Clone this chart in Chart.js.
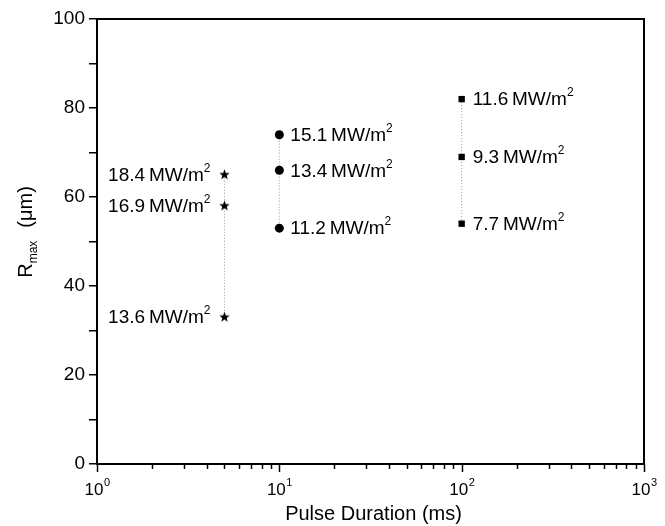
<!DOCTYPE html>
<html>
<head>
<meta charset="utf-8">
<style>html,body{margin:0;padding:0;background:#fff}</style>
<script src="https://cdn.jsdelivr.net/npm/chart.js@4.4.0/dist/chart.umd.min.js"></script>
</head>
<body>
<canvas id="chart" width="665" height="526"></canvas>
<script>
// pulse durations (ms) for each marker group
const pulseDurations = [5, 10, 100];
// R_max (um) and peak intensity (MW/m2) for each group
const starValues = [65, 58, 33];
const starIntensity = ['18.4', '16.9', '13.6'];
const circleValues = [74, 66, 53];
const circleIntensity = ['15.1', '13.4', '11.2'];
const squareValues = [82, 69, 54];
const squareIntensity = ['11.6', '9.3', '7.7'];
const xTickExponents = [0, 1, 2, 3];
const yTickLabels = [0, 20, 40, 60, 80, 100];

const FONT = "'Liberation Sans', Arial, sans-serif";

function makeStar(r) {
  const c = document.createElement('canvas');
  c.width = c.height = 2 * r + 2;
  const g = c.getContext('2d');
  g.fillStyle = '#000';
  g.beginPath();
  for (let i = 0; i < 10; i++) {
    const a = -Math.PI / 2 + i * Math.PI / 5;
    const rr = i % 2 ? r * 0.42 : r;
    g.lineTo(r + 1 + rr * Math.cos(a), r + 1 + rr * Math.sin(a));
  }
  g.closePath();
  g.fill();
  return c;
}

function group(x, values, intensity, style, radius, side) {
  return {
    data: values.map(v => ({ x: x, y: v })),
    intensity: intensity,
    labelSide: side,
    showLine: true,
    borderColor: '#9a9a9a',
    borderWidth: 1,
    borderDash: [1, 2],
    pointStyle: style,
    pointRadius: radius,
    pointBackgroundColor: '#000',
    pointBorderColor: '#000',
    pointBorderWidth: 0
  };
}

const labelsPlugin = {
  id: 'labels',
  afterDraw(chart) {
    const { ctx, chartArea: a, scales: { x, y } } = chart;
    ctx.save();
    ctx.strokeStyle = '#000';
    ctx.lineWidth = 2;
    ctx.strokeRect(a.left, a.top, a.right - a.left, a.bottom - a.top);

    // log ticks on the bottom axis
    ctx.lineWidth = 1.5;
    for (let e = 0; e < 3; e++) {
      for (let m = 1; m < 10; m++) {
        const px = Math.round(x.getPixelForValue(m * Math.pow(10, e))) + 0.5;
        const len = m === 1 ? 8 : 5;
        ctx.beginPath(); ctx.moveTo(px, a.bottom); ctx.lineTo(px, a.bottom + len); ctx.stroke();
      }
    }
    const pxEnd = Math.round(x.getPixelForValue(1000)) + 0.5;
    ctx.beginPath(); ctx.moveTo(pxEnd, a.bottom); ctx.lineTo(pxEnd, a.bottom + 8); ctx.stroke();

    ctx.fillStyle = '#000';
    ctx.textBaseline = 'alphabetic';
    xTickExponents.forEach(e => {
      const px = x.getPixelForValue(Math.pow(10, e));
      ctx.font = '17px ' + FONT;
      ctx.textAlign = 'center';
      ctx.fillText('10', px - 3, 495);
      ctx.font = '11px ' + FONT;
      ctx.textAlign = 'left';
      ctx.fillText(String(e), px + 7, 486);
    });

    ctx.font = '20px ' + FONT;
    ctx.textAlign = 'center';
    ctx.fillText('Pulse Duration (ms)', (a.left + a.right) / 2 + 3, 520);

    // y title: R_max (um)
    ctx.save();
    ctx.translate(32, 232);
    ctx.rotate(-Math.PI / 2);
    ctx.textAlign = 'left';
    ctx.font = '20px ' + FONT;
    const wR = ctx.measureText('R').width;
    ctx.font = '12px ' + FONT;
    const wSub = ctx.measureText('max').width;
    ctx.font = '20px ' + FONT;
    const wUnit = ctx.measureText('(\u03bcm)').width;
    const total = wR + wSub + 13 + wUnit;
    let cx = -total / 2;
    ctx.fillText('R', cx, 0);
    ctx.font = '12px ' + FONT;
    ctx.fillText('max', cx + wR, 5);
    ctx.font = '20px ' + FONT;
    ctx.fillText('(\u03bcm)', cx + wR + wSub + 13, 0);
    ctx.restore();

    // intensity labels beside each marker
    chart.data.datasets.forEach((ds, i) => {
      const meta = chart.getDatasetMeta(i);
      meta.data.forEach((pt, j) => {
        ctx.font = '19px ' + FONT;
        const main = ds.intensity[j] + '\u2009MW/m';
        const wMain = ctx.measureText(main).width;
        ctx.font = '12px ' + FONT;
        const wSup = ctx.measureText('2').width;
        const startX = ds.labelSide === 'left' ? pt.x - 14 - wMain - wSup : pt.x + 11;
        ctx.textAlign = 'left';
        ctx.textBaseline = 'middle';
        ctx.font = '19px ' + FONT;
        ctx.fillText(main, startX, pt.y + 1);
        ctx.font = '12px ' + FONT;
        ctx.fillText('2', startX + wMain, pt.y - 6);
      });
    });
    ctx.restore();
  }
};

new Chart(document.getElementById('chart'), {
  type: 'scatter',
  data: {
    datasets: [
      group(pulseDurations[0], starValues, starIntensity, makeStar(5.5), 6, 'left'),
      group(pulseDurations[1], circleValues, circleIntensity, 'circle', 4.5, 'right'),
      group(pulseDurations[2], squareValues, squareIntensity, 'rect', 4.5, 'right')
    ]
  },
  options: {
    responsive: false,
    animation: false,
    layout: { padding: { top: 19, right: 21 } },
    plugins: { legend: { display: false }, tooltip: { enabled: false } },
    scales: {
      x: {
        type: 'logarithmic',
        min: 1,
        max: 1000,
        ticks: { display: false },
        grid: { display: false },
        border: { display: false },
        afterFit(scale) { scale.height = 62; }
      },
      y: {
        min: 0,
        max: 100,
        ticks: {
          stepSize: 10,
          color: '#000',
          padding: 4,
          font: { family: FONT, size: 19 },
          callback: v => yTickLabels.includes(v) ? String(v) : ''
        },
        grid: { drawOnChartArea: false, tickLength: 8, color: '#000', lineWidth: 1.5 },
        border: { color: '#000', width: 2 },
        afterFit(scale) { scale.width = 97; }
      }
    }
  },
  plugins: [labelsPlugin]
});
</script>
</body>
</html>
